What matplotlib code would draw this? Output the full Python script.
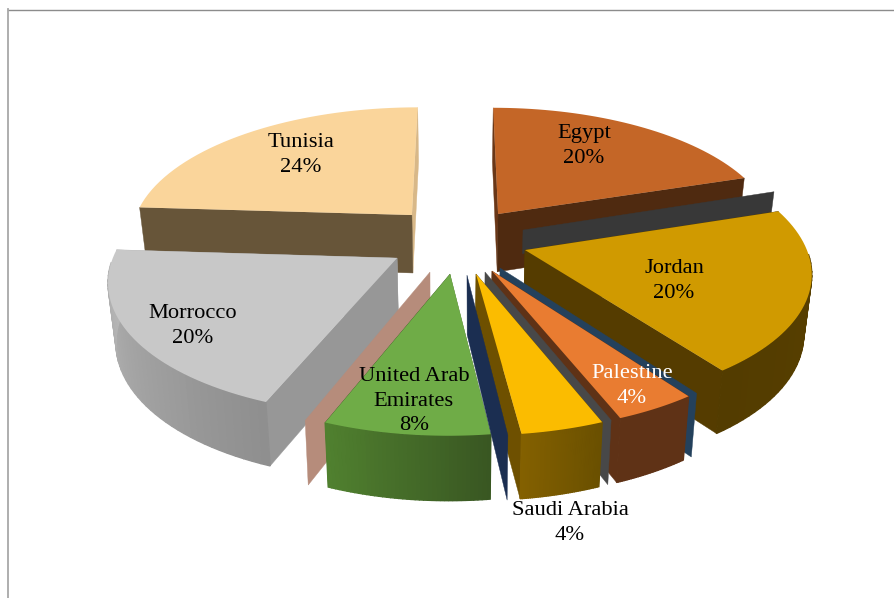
import numpy as np
import matplotlib
matplotlib.use("Agg")
import matplotlib.pyplot as plt
from matplotlib.colors import to_rgb

plt.rcParams['font.family'] = ['Liberation Serif', 'DejaVu Serif']

# data, clockwise from 12 o'clock
categories = ["Egypt", "Jordan", "Palestine", "Saudi Arabia", "United Arab\nEmirates", "Morrocco", "Tunisia"]
values = [20, 20, 4, 4, 8, 20, 24]

# colours
top_colors = ["#C46627", "#D09A00", "#E97C31", "#FBBC00", "#6FAC47", "#C8C8C8", "#FAD59B"]
wall_start = ["#6A3717", "#553C00", "#5F3216", "#6E5000", "#50802F", "#979797", "#675539"]
wall_end = ["#4F2A10", "#553C00", "#5F3216", "#6E5000", "#395722", "#B0B0B0", "#D8B888"]
outer_start = ["#6A3717", "#5A4100", "#5F3216", "#6A5000", "#395722", "#8F8F8F", "#675539"]
outer_end = ["#4F2A10", "#533C00", "#5F3216", "#836000", "#50802F", "#B8B8B8", "#D8B888"]
label_colors = ["black", "black", "white", "black", "black", "black", "black"]
label_pos = [(584, 145), (674, 280), (632, 385), (570, 522), (414, 400), (193, 325), (301, 154)]

# projection of the exploded pie
cx, cy = 458, 241
rx, ry = 283, 130
persp = 0.15
depth = 58.7
taper = 0.023
explode = 0.24
shift_x = [1.3, 1.7, 0.2, 0.5, 0.8, -2.5, -0.8]
shift_y = [-2.5, -0.7, 1.8, 1.7, 1.0, 0.0, -3.8]
radius_scale = [0.99, 0.985, 0.98, 0.98, 0.98, 0.985, 1.0]


def project(x, y, z=0.0):
    w = 1 + persp * y
    u = cx + rx * x / w
    v = cy - ry * y / w
    u = u + (cx - u) * taper * z
    v = v + depth * z / np.sqrt(w)
    return u, v


fracs = np.array(values) / sum(values)
edges = np.concatenate([[0], np.cumsum(fracs)]) * 2 * np.pi

fig = plt.figure(figsize=(8.94, 5.98), dpi=100)
ax = fig.add_axes([0, 0, 1, 1])
ax.set_xlim(0, 894)
ax.set_ylim(598, 0)
ax.axis("off")

ax.plot([8, 894], [9.5, 9.5], color="#8C8C8C", lw=1.0)
ax.plot([8, 8], [9, 598], color="#A8A8A8", lw=1.3)


def origin(i):
    mid = (edges[i] + edges[i + 1]) / 2
    return explode * np.sin(mid), explode * np.cos(mid)


def poly(us, vs, color, lw=0.3):
    ax.fill(us, vs, facecolor=color, edgecolor=color, lw=lw)


def radial_wall(i, theta, color, dx=0.0, dy=0.0, length=1.0, z=1.0):
    x0, y0 = origin(i)
    x1 = x0 + length * radius_scale[i] * np.sin(theta)
    y1 = y0 + length * radius_scale[i] * np.cos(theta)
    sx = shift_x[i] + dx
    sy = shift_y[i] + dy
    pts = [project(x0, y0), project(x1, y1), project(x1, y1, z), project(x0, y0, z)]
    poly([p[0] + sx for p in pts], [p[1] + sy for p in pts], color)


def draw_slice(i):
    a, b = edges[i], edges[i + 1]
    x0, y0 = origin(i)
    sx, sy = shift_x[i], shift_y[i]
    # the wall further back goes first
    if np.cos(a) > np.cos(b):
        radial_wall(i, a, wall_start[i])
        radial_wall(i, b, wall_end[i])
    else:
        radial_wall(i, b, wall_end[i])
        radial_wall(i, a, wall_start[i])
    th = np.linspace(a, b, 41)
    xs = x0 + radius_scale[i] * np.sin(th)
    ys = y0 + radius_scale[i] * np.cos(th)
    c0 = np.array(to_rgb(outer_start[i]))
    c1 = np.array(to_rgb(outer_end[i]))
    for k in range(len(th) - 1):
        # rim facing away is hidden by the top face
        if np.cos(th[k]) > -0.05 and np.cos(th[k + 1]) > -0.05:
            continue
        t = k / (len(th) - 2)
        col = c0 + (c1 - c0) * t
        p = [project(xs[k], ys[k]), project(xs[k + 1], ys[k + 1]),
             project(xs[k + 1], ys[k + 1], 1), project(xs[k], ys[k], 1)]
        poly([q[0] + sx for q in p], [q[1] + sy for q in p], tuple(col), lw=1.0)
    us, vs = project(np.concatenate([[x0], xs]), np.concatenate([[y0], ys]))
    poly(us + sx, vs + sy, top_colors[i], lw=0)


EGYPT, JORDAN, PALESTINE, SAUDI, UAE, MOROCCO, TUNISIA = range(7)

draw_slice(TUNISIA)
draw_slice(EGYPT)
radial_wall(JORDAN, edges[JORDAN], "#383838", dx=-2, dy=-20, length=0.99, z=0.4)
draw_slice(JORDAN)
draw_slice(MOROCCO)
radial_wall(UAE, edges[UAE + 1], "#B68C7B", dx=-20, dy=-2)
draw_slice(UAE)
radial_wall(PALESTINE, edges[PALESTINE], "#24415C", dx=8, dy=-3)
draw_slice(PALESTINE)
radial_wall(SAUDI, edges[SAUDI], "#484848", dx=9, dy=-2)
draw_slice(SAUDI)
radial_wall(UAE, edges[UAE], "#1B2E51", dx=17, dy=1)

for name, val, col, pos in zip(categories, values, label_colors, label_pos):
    ax.text(pos[0], pos[1] + 1, "{}\n{}%".format(name, val), color=col, fontsize=16.2,
            ha="center", va="center", linespacing=1.42, multialignment="center")

fig.savefig("out.png", dpi=100)
